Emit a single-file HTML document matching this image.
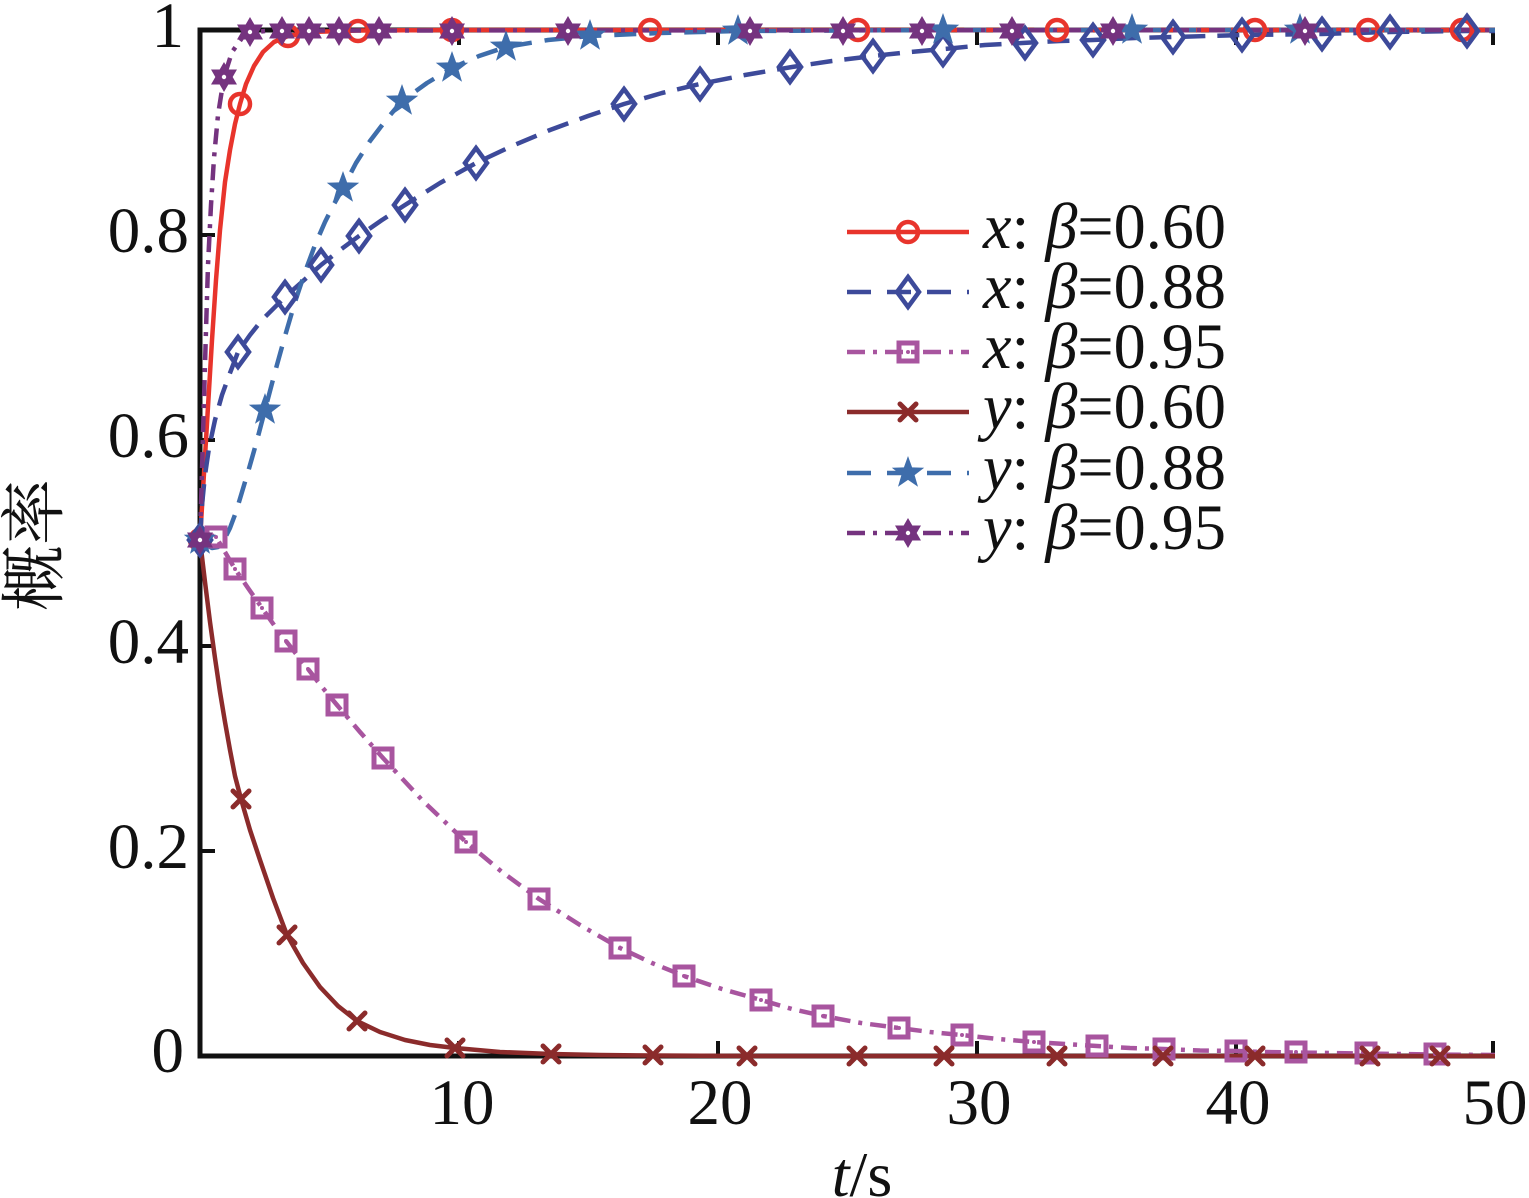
<!DOCTYPE html>
<html>
<head>
<meta charset="utf-8">
<style>
html,body{margin:0;padding:0;background:#fff;}
svg{display:block;}
text{font-family:"Liberation Serif","Noto Serif CJK SC",serif;fill:#111;}
</style>
</head>
<body>
<svg width="1529" height="1198" viewBox="0 0 1529 1198" xmlns="http://www.w3.org/2000/svg" font-family="'Liberation Serif','Noto Serif CJK SC',serif">
<defs>
  <circle id="mc" r="10" fill="none" stroke="#e8342c" stroke-width="4.5"/>
  <polygon id="md" points="0,-15 11,0 0,15 -11,0" fill="none" stroke="#3d4a9a" stroke-width="4.5" stroke-linejoin="miter"/>
  <g id="ms"><rect x="-9" y="-9" width="18" height="18" fill="none" stroke="#a8559f" stroke-width="5"/><circle r="2" fill="#a8559f"/></g>
  <g id="mx" stroke="#8b2b2b" stroke-width="5" stroke-linecap="round"><line x1="-8" y1="-8" x2="8" y2="8"/><line x1="-8" y1="8" x2="8" y2="-8"/></g>
  <polygon id="mp" points="0,-17 4.1,-5.6 16.2,-5.3 6.6,2.1 10,13.8 0,6.9 -10,13.8 -6.6,2.1 -16.2,-5.3 -4.1,-5.6" fill="#3e6dab"/>
  <g id="mh"><polygon points="0,-15 4.33,-7.5 12.99,-7.5 8.66,0 12.99,7.5 4.33,7.5 0,15 -4.33,7.5 -12.99,7.5 -8.66,0 -12.99,-7.5 -4.33,-7.5" fill="#75337f"/><circle r="2.2" fill="#fff"/></g>
</defs>

<!-- axes -->
<g stroke="#111" stroke-width="5" fill="none">
  <line x1="200" y1="30" x2="1495" y2="30"/>
  <line x1="200" y1="27.5" x2="200" y2="1058.5"/>
  <line x1="197.5" y1="1056" x2="1495" y2="1056"/>
</g>
<g stroke="#111" stroke-width="4">
  <line x1="459" y1="1056" x2="459" y2="1041"/>
  <line x1="718" y1="1056" x2="718" y2="1041"/>
  <line x1="977" y1="1056" x2="977" y2="1041"/>
  <line x1="1236" y1="1056" x2="1236" y2="1041"/>
  <line x1="1493" y1="1056" x2="1493" y2="1041"/>
  <line x1="459" y1="30" x2="459" y2="45"/>
  <line x1="718" y1="30" x2="718" y2="45"/>
  <line x1="977" y1="30" x2="977" y2="45"/>
  <line x1="1236" y1="30" x2="1236" y2="45"/>
  <line x1="1493" y1="30" x2="1493" y2="45"/>
  <line x1="200" y1="235" x2="215" y2="235"/>
  <line x1="200" y1="440" x2="215" y2="440"/>
  <line x1="200" y1="646" x2="215" y2="646"/>
  <line x1="200" y1="851" x2="215" y2="851"/>
</g>

<!-- tick labels -->
<g font-size="65" text-anchor="end" font-family="'Liberation Serif',serif">
  <text x="184" y="47">1</text>
  <text x="189" y="252">0.8</text>
  <text x="189" y="457">0.6</text>
  <text x="189" y="663">0.4</text>
  <text x="189" y="868">0.2</text>
  <text x="184" y="1072">0</text>
</g>
<g font-size="65" text-anchor="middle" font-family="'Liberation Serif',serif">
  <text x="462" y="1124">10</text>
  <text x="720" y="1124">20</text>
  <text x="979" y="1124">30</text>
  <text x="1238" y="1124">40</text>
  <text x="1495" y="1124">50</text>
</g>
<text x="862" y="1196" font-size="64" text-anchor="middle" font-family="'Liberation Serif',serif"><tspan font-style="italic">t</tspan>/s</text>
<text transform="translate(57,545) rotate(-90)" font-size="66" text-anchor="middle" font-family="'Noto Serif CJK SC',serif">概率</text>

<!-- series lines -->
<g fill="none" stroke-width="4.5" stroke-linejoin="round" stroke-linecap="butt">
  <polyline stroke="#e8342c" points="200,540 203,490 206,440 209,390 212,340 216,280 220,230 225,182 230,150 235,124 240,104 246,84 254,66 263,52 274,42 288,36 310,32 358,30.5 455,30 1495,30"/>
  <polyline stroke="#3d4a9a" stroke-dasharray="22 12" points="200,540 202,505 205,475 209,448 215,420 222,395 230,373 238,352 250,335 262,320 285,297 303,281 321,265 340,250 359,236 382,220 405,205 440,183 476,163 512,146 550,130 588,116 624,104 662,93 700,84 745,75 792,67 832,61 873,56 910,52 944,49 985,45 1022,43 1060,41 1093,40 1135,38 1173,37 1242,35 1322,34 1390,32 1467,31 1495,31"/>
  <polyline stroke="#a8559f" stroke-dasharray="16 8 4 8" points="200,540 208,534 216,537 225,552 235,569 248,588 262,608 274,625 286,641 297,655 308,669 322,687 337,705 360,732 383,758 423,801 466,842 502,872 539,899 580,925 620,948 652,963 684,976 722,989 761,1000 792,1009 823,1016 861,1023 899,1028 930,1032 962,1035 998,1039 1034,1042 1066,1044 1097,1046 1130,1048 1164,1049 1200,1050.5 1236,1051 1266,1052 1296,1052.5 1366,1053.5 1435,1054.5 1495,1055"/>
  <polyline stroke="#8b2b2b" points="200,540 205,582 210,622 215,658 220,692 225,722 230,750 235,776 241,799 250,830 260,860 273,898 287,935 303,963 320,987 338,1006 357,1021 380,1032 405,1040 430,1045 455,1048 500,1052 551,1054 600,1055 653,1055.5 750,1056 1495,1056"/>
  <polyline stroke="#3e6dab" stroke-dasharray="22 13" points="200,540 206,545 212,548 218,547 224,540 230,528 236,512 242,492 248,472 256,444 265,410 275,372 285,336 295,302 305,272 315,245 325,222 334,204 343,188 356,163 370,141 386,120 402,101 427,83 452,68 479,56 506,47 548,40 590,36 660,33 738,31 943,30 1495,30"/>
  <polyline stroke="#75337f" stroke-dasharray="16 8 4 8" points="200,540 202,470 204,400 206,330 208,265 211,205 214,158 218,115 224,77 232,52 242,38 250,33 265,31 282,30.5 1495,30"/>
</g>

<!-- markers -->
<g>
  <use href="#mc" x="200" y="540"/>
  <use href="#mc" x="240" y="104"/>
  <use href="#mc" x="288" y="36"/>
  <use href="#mc" x="358" y="31"/>
  <use href="#mc" x="452" y="30"/>
  <use href="#mc" x="650" y="30"/>
  <use href="#mc" x="858" y="30"/>
  <use href="#mc" x="1057" y="30"/>
  <use href="#mc" x="1255" y="30"/>
  <use href="#mc" x="1368" y="30"/>
  <use href="#mc" x="1462" y="30"/>
</g>
<g>
  <use href="#md" x="200" y="540"/>
  <use href="#md" x="238" y="352"/>
  <use href="#md" x="285" y="297"/>
  <use href="#md" x="321" y="265"/>
  <use href="#md" x="359" y="236"/>
  <use href="#md" x="405" y="205"/>
  <use href="#md" x="476" y="163"/>
  <use href="#md" x="624" y="104"/>
  <use href="#md" x="700" y="84"/>
  <use href="#md" x="790" y="67"/>
  <use href="#md" x="873" y="56"/>
  <use href="#md" x="943" y="50"/>
  <use href="#md" x="1025" y="43"/>
  <use href="#md" x="1093" y="40"/>
  <use href="#md" x="1173" y="37"/>
  <use href="#md" x="1242" y="35"/>
  <use href="#md" x="1322" y="34"/>
  <use href="#md" x="1390" y="32"/>
  <use href="#md" x="1467" y="31"/>
</g>
<g>
  <use href="#ms" x="216" y="537"/>
  <use href="#ms" x="235" y="569"/>
  <use href="#ms" x="262" y="608"/>
  <use href="#ms" x="286" y="641"/>
  <use href="#ms" x="308" y="669"/>
  <use href="#ms" x="337" y="705"/>
  <use href="#ms" x="383" y="758"/>
  <use href="#ms" x="466" y="842"/>
  <use href="#ms" x="539" y="899"/>
  <use href="#ms" x="620" y="948"/>
  <use href="#ms" x="684" y="976"/>
  <use href="#ms" x="761" y="1000"/>
  <use href="#ms" x="823" y="1016"/>
  <use href="#ms" x="899" y="1028"/>
  <use href="#ms" x="962" y="1035"/>
  <use href="#ms" x="1034" y="1042"/>
  <use href="#ms" x="1097" y="1046"/>
  <use href="#ms" x="1164" y="1049"/>
  <use href="#ms" x="1236" y="1051"/>
  <use href="#ms" x="1296" y="1052"/>
  <use href="#ms" x="1366" y="1053"/>
  <use href="#ms" x="1435" y="1054"/>
</g>
<g>
  <use href="#mx" x="241" y="799"/>
  <use href="#mx" x="287" y="935"/>
  <use href="#mx" x="357" y="1021"/>
  <use href="#mx" x="455" y="1048"/>
  <use href="#mx" x="551" y="1054"/>
  <use href="#mx" x="653" y="1055"/>
  <use href="#mx" x="747" y="1056"/>
  <use href="#mx" x="857" y="1056"/>
  <use href="#mx" x="944" y="1056"/>
  <use href="#mx" x="1057" y="1056"/>
  <use href="#mx" x="1163" y="1056"/>
  <use href="#mx" x="1255" y="1056"/>
  <use href="#mx" x="1370" y="1056"/>
  <use href="#mx" x="1440" y="1056"/>
</g>
<g>
  <use href="#mp" x="200" y="540"/>
  <use href="#mp" x="265" y="410"/>
  <use href="#mp" x="343" y="188"/>
  <use href="#mp" x="402" y="101"/>
  <use href="#mp" x="452" y="68"/>
  <use href="#mp" x="506" y="47"/>
  <use href="#mp" x="590" y="36"/>
  <use href="#mp" x="738" y="31"/>
  <use href="#mp" x="943" y="30"/>
  <use href="#mp" x="1132" y="30"/>
  <use href="#mp" x="1300" y="30"/>
</g>
<g>
  <use href="#mh" x="200" y="540"/>
  <use href="#mh" x="224" y="77"/>
  <use href="#mh" x="250" y="32"/>
  <use href="#mh" x="282" y="31"/>
  <use href="#mh" x="309" y="31"/>
  <use href="#mh" x="339" y="31"/>
  <use href="#mh" x="379" y="31"/>
  <use href="#mh" x="452" y="31"/>
  <use href="#mh" x="568" y="31"/>
  <use href="#mh" x="750" y="31"/>
  <use href="#mh" x="843" y="31"/>
  <use href="#mh" x="922" y="31"/>
  <use href="#mh" x="1012" y="31"/>
  <use href="#mh" x="1113" y="31"/>
  <use href="#mh" x="1305" y="31"/>
</g>

<!-- legend -->
<g fill="none" stroke-width="4.5">
  <line x1="847" y1="232" x2="969" y2="232" stroke="#e8342c"/>
  <line x1="847" y1="292" x2="969" y2="292" stroke="#3d4a9a" stroke-dasharray="24 16"/>
  <line x1="847" y1="352" x2="969" y2="352" stroke="#a8559f" stroke-dasharray="18 8 4 8"/>
  <line x1="847" y1="412" x2="969" y2="412" stroke="#8b2b2b"/>
  <line x1="847" y1="473" x2="969" y2="473" stroke="#3e6dab" stroke-dasharray="24 16"/>
  <line x1="847" y1="533" x2="969" y2="533" stroke="#75337f" stroke-dasharray="18 8 4 8"/>
</g>
<use href="#mc" x="908" y="232"/>
<use href="#md" x="908" y="292"/>
<use href="#ms" x="908" y="352"/>
<use href="#mx" x="908" y="412"/>
<use href="#mp" x="908" y="473"/>
<use href="#mh" x="908" y="533"/>
<g font-size="65" font-family="'Liberation Serif',serif">
  <text x="983" y="248" textLength="243" lengthAdjust="spacingAndGlyphs"><tspan font-style="italic">x</tspan>: <tspan font-style="italic">β</tspan>=0.60</text>
  <text x="983" y="308" textLength="243" lengthAdjust="spacingAndGlyphs"><tspan font-style="italic">x</tspan>: <tspan font-style="italic">β</tspan>=0.88</text>
  <text x="983" y="368" textLength="243" lengthAdjust="spacingAndGlyphs"><tspan font-style="italic">x</tspan>: <tspan font-style="italic">β</tspan>=0.95</text>
  <text x="983" y="428" textLength="243" lengthAdjust="spacingAndGlyphs"><tspan font-style="italic">y</tspan>: <tspan font-style="italic">β</tspan>=0.60</text>
  <text x="983" y="489" textLength="243" lengthAdjust="spacingAndGlyphs"><tspan font-style="italic">y</tspan>: <tspan font-style="italic">β</tspan>=0.88</text>
  <text x="983" y="549" textLength="243" lengthAdjust="spacingAndGlyphs"><tspan font-style="italic">y</tspan>: <tspan font-style="italic">β</tspan>=0.95</text>
</g>
</svg>
</body>
</html>
